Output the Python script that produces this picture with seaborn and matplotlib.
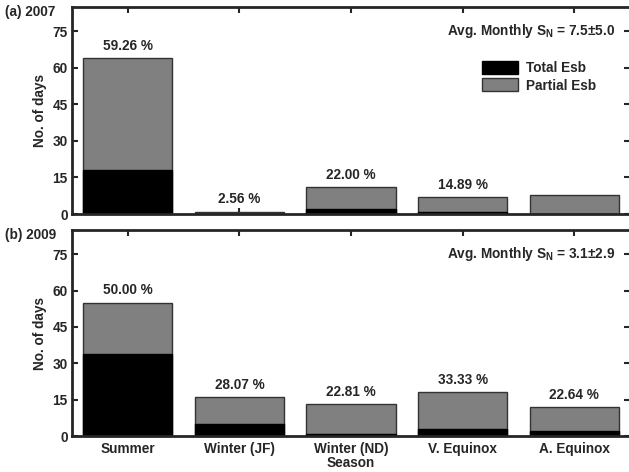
import matplotlib
matplotlib.use("Agg")
import matplotlib.pyplot as plt
import matplotlib.patches as mpatches
import seaborn as sns

# Data
seasons = ['Summer', 'Winter (JF)', 'Winter (ND)', 'V. Equinox', 'A. Equinox']

# 2007
days_2007 = [64, 1, 11, 7, 8]          # total bar height (gray)
total_esb_2007 = [18, 0, 2, 1, 0]      # black part
pct_2007 = ['59.26 %', '2.56 %', '22.00 %', '14.89 %', None]
sn_2007 = '7.5\u00b15.0'

# 2009
days_2009 = [55, 16, 13, 18, 12]
total_esb_2009 = [34, 5, 1, 3, 2]
pct_2009 = ['50.00 %', '28.07 %', '22.81 %', '33.33 %', '22.64 %']
sn_2009 = '3.1\u00b12.9'

sns.set_style('ticks')
plt.rcParams['font.family'] = ['Liberation Sans', 'DejaVu Sans']
plt.rcParams['font.weight'] = 'bold'
plt.rcParams['axes.labelweight'] = 'bold'
plt.rcParams['mathtext.fontset'] = 'custom'
plt.rcParams['mathtext.rm'] = 'Liberation Sans:bold'
plt.rcParams['mathtext.it'] = 'Liberation Sans:bold'
plt.rcParams['mathtext.bf'] = 'Liberation Sans:bold'

fs = 9.8
fig = plt.figure(figsize=(6.29, 4.72), dpi=100)
W, H = 629, 472
ax1 = fig.add_axes([72 / W, 1 - 214 / H, 558 / W, 207 / H])
ax2 = fig.add_axes([72 / W, 1 - 436 / H, 558 / W, 206 / H])

panels = [
    (ax1, days_2007, total_esb_2007, pct_2007, sn_2007, '(a) 2007'),
    (ax2, days_2009, total_esb_2009, pct_2009, sn_2009, '(b) 2009'),
]

for ax, days, esb, pct, sn, tag in panels:
    sns.barplot(x=seasons, y=days, color='#808080', edgecolor='#333333',
                linewidth=1, saturation=1, width=0.8, ax=ax)
    sns.barplot(x=seasons, y=esb, color='black', edgecolor='black',
                linewidth=1, saturation=1, width=0.8, ax=ax)
    for i, (d, p) in enumerate(zip(days, pct)):
        if p:
            ax.text(i, d + 2.2, p, ha='center', va='bottom',
                    fontsize=fs, fontweight='bold')
    ax.set_xlim(-0.5, 4.5)
    ax.set_ylim(0, 85)
    ax.set_yticks([0, 15, 30, 45, 60, 75])
    ax.set_ylabel('No. of days', fontsize=fs, fontweight='bold', labelpad=4)
    ax.tick_params(direction='in', length=4, width=1.5, labelsize=fs,
                   top=True, right=True, pad=3)
    ax.tick_params(axis='x', pad=4)
    for s in ['left', 'top', 'bottom']:
        ax.spines[s].set_linewidth(2)
    ax.spines['right'].set_visible(False)
    ax.text(-0.12, 0.975, tag, transform=ax.transAxes, ha='left', va='center',
            fontsize=fs, fontweight='bold')
    ax.text(0.973, 0.885, 'Avg. Monthly S$_{N}$ = ' + sn, transform=ax.transAxes,
            ha='right', va='center', fontsize=fs, fontweight='bold')
    for lab in ax.get_yticklabels():
        lab.set_fontweight('bold')

ax1.set_xticklabels([])
ax1.set_xlabel('')
ax2.set_xlabel('Season', fontsize=fs, fontweight='bold', labelpad=0.5)
for lab in ax2.get_xticklabels():
    lab.set_fontweight('bold')

handles = [mpatches.Patch(facecolor='black', edgecolor='black', label='Total Esb'),
           mpatches.Patch(facecolor='#808080', edgecolor='#333333', label='Partial Esb')]
ax1.legend(handles=handles, loc='upper left', bbox_to_anchor=(0.735, 0.74),
           frameon=False, fontsize=fs, handlelength=2.6, handleheight=1.1,
           handletextpad=0.6, labelspacing=0.25, borderaxespad=0,
           borderpad=0)

fig.savefig('out.png', dpi=100)
